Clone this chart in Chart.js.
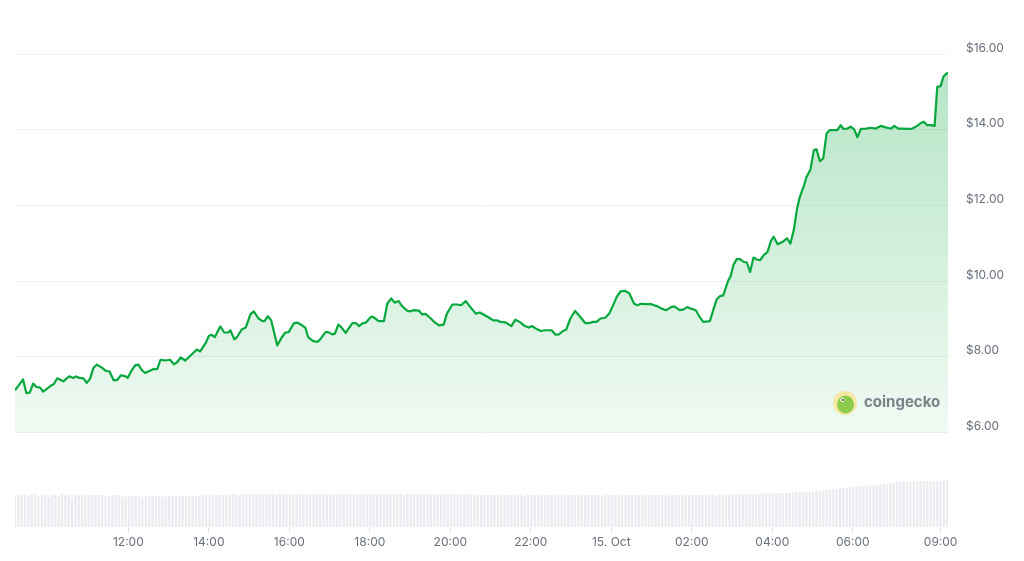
<!DOCTYPE html>
<html>
<head>
<meta charset="utf-8">
<title>Price chart</title>
<script src="https://cdn.jsdelivr.net/npm/chart.js@4.4.1/dist/chart.umd.min.js"></script>
<style>
  html, body { margin: 0; padding: 0; background: #ffffff; }
  #wrap { width: 1024px; height: 561px; }
</style>
</head>
<body>
<div id="wrap"><canvas id="myChart" width="1024" height="561"></canvas></div>
<script>
// Tiempos en minutos desde 14 Oct 00:00
const priceTimes = [
  551, 563, 568, 573, 578, 583, 588, 593, 599, 605, 609, 614, 623, 629, 632, 638, 642, 647, 653, 658,
  663, 668, 673, 679, 686, 692, 698, 703, 709, 716, 719, 724, 730, 735, 740, 745, 752, 757, 763, 768,
  775, 782, 788, 793, 798, 805, 812, 822, 827, 835, 840, 844, 849, 857, 863, 869, 872, 878, 882, 889,
  895, 902, 907, 914, 920, 923, 928, 933, 942, 948, 954, 959, 967, 972, 979, 984, 988, 995, 1002, 1006,
  1014, 1018, 1024, 1028, 1033, 1038, 1044, 1054, 1059, 1064, 1069, 1074, 1082, 1086, 1093, 1101, 1106, 1112, 1117, 1123,
  1128, 1136, 1141, 1145, 1153, 1158, 1163, 1171, 1176, 1183, 1190, 1195, 1203, 1210, 1216, 1223, 1230, 1238, 1244, 1250,
  1258, 1264, 1270, 1275, 1282, 1291, 1297, 1305, 1311, 1317, 1322, 1328, 1335, 1341, 1346, 1351, 1357, 1362, 1368, 1373,
  1379, 1386, 1393, 1401, 1407, 1413, 1418, 1424, 1431, 1437, 1442, 1448, 1454, 1461, 1467, 1474, 1479, 1484, 1491, 1499,
  1504, 1509, 1515, 1522, 1529, 1534, 1542, 1548, 1553, 1559, 1566, 1571, 1577, 1587, 1592, 1597, 1602, 1607, 1611, 1614,
  1618, 1622, 1627, 1632, 1637, 1642, 1647, 1652, 1657, 1662, 1667, 1673, 1678, 1682, 1688, 1695, 1702, 1707, 1712, 1717,
  1721, 1727, 1731, 1737, 1742, 1746, 1751, 1756, 1761, 1766, 1772, 1777, 1782, 1786, 1792, 1797, 1802, 1807, 1812, 1820,
  1827, 1834, 1842, 1849, 1857, 1862, 1868, 1874, 1882, 1889, 1896, 1901, 1906, 1911, 1917, 1922, 1926, 1931, 1935, 1939,
  1942
];

// Precio en USD
const prices = [
  7.11, 7.40, 7.04, 7.05, 7.29, 7.20, 7.19, 7.08, 7.16, 7.24, 7.28, 7.43, 7.35, 7.44, 7.48, 7.44, 7.48, 7.44, 7.43, 7.31,
  7.42, 7.71, 7.79, 7.73, 7.63, 7.61, 7.38, 7.38, 7.51, 7.48, 7.44, 7.61, 7.77, 7.79, 7.65, 7.57, 7.63, 7.67, 7.67, 7.92,
  7.90, 7.92, 7.80, 7.86, 7.98, 7.90, 8.02, 8.19, 8.14, 8.35, 8.55, 8.58, 8.52, 8.80, 8.64, 8.64, 8.70, 8.46, 8.52, 8.72,
  8.77, 9.12, 9.20, 9.01, 8.94, 8.94, 9.07, 8.96, 8.30, 8.49, 8.64, 8.65, 8.89, 8.90, 8.83, 8.76, 8.52, 8.42, 8.39, 8.46,
  8.65, 8.65, 8.59, 8.61, 8.85, 8.77, 8.63, 8.89, 8.89, 8.81, 8.88, 8.90, 9.06, 9.04, 8.94, 8.94, 9.40, 9.54, 9.43, 9.47,
  9.34, 9.21, 9.20, 9.23, 9.22, 9.12, 9.13, 9.01, 8.92, 8.83, 8.85, 9.14, 9.38, 9.38, 9.36, 9.47, 9.31, 9.14, 9.17, 9.11,
  9.03, 8.96, 8.96, 8.92, 8.91, 8.81, 8.98, 8.90, 8.81, 8.77, 8.81, 8.74, 8.68, 8.70, 8.70, 8.70, 8.58, 8.59, 8.68, 8.72,
  9.01, 9.21, 9.07, 8.89, 8.89, 8.92, 8.92, 9.01, 9.03, 9.14, 9.33, 9.58, 9.73, 9.74, 9.67, 9.40, 9.36, 9.40, 9.39, 9.39,
  9.36, 9.33, 9.27, 9.23, 9.31, 9.33, 9.23, 9.25, 9.31, 9.27, 9.23, 9.07, 8.92, 8.94, 9.23, 9.51, 9.60, 9.62, 9.84, 10.00,
  10.13, 10.42, 10.58, 10.58, 10.51, 10.49, 10.24, 10.62, 10.57, 10.55, 10.68, 10.77, 11.06, 11.17, 10.97, 11.03, 11.13, 10.99, 11.34, 11.92,
  12.22, 12.51, 12.75, 12.95, 13.46, 13.48, 13.17, 13.24, 13.90, 13.99, 13.99, 13.99, 14.12, 14.02, 14.03, 14.08, 14.01, 13.80, 14.02, 14.03,
  14.05, 14.03, 14.10, 14.06, 14.03, 14.10, 14.03, 14.03, 14.02, 14.03, 14.10, 14.17, 14.21, 14.12, 14.12, 14.10, 15.13, 15.15, 15.40, 15.47,
  15.51
];

// Volumen (millones USD), una barra cada 5 minutos desde volumeStart
const volumeStart = 551;
const volumeStep = 5;
const volumes = [
  3.2, 3.2, 3.3, 3.2, 3.1, 3.2, 3.3, 3.1, 3.2, 3.2, 3.0, 3.2,
  3.2, 3.1, 3.3, 3.2, 3.2, 2.9, 3.2, 3.2, 3.2, 3.2, 3.2, 3.2,
  3.2, 3.2, 3.2, 3.1, 3.1, 3.2, 3.2, 3.2, 3.1, 3.0, 3.1, 3.1,
  3.1, 3.1, 3.0, 3.1, 3.1, 3.1, 3.1, 3.1, 3.1, 3.0, 3.1, 3.1,
  3.1, 3.1, 3.1, 3.1, 3.1, 3.1, 3.1, 3.1, 3.2, 3.2, 3.2, 3.2,
  3.2, 3.2, 3.2, 3.2, 3.2, 3.3, 3.2, 3.2, 3.3, 3.3, 3.3, 3.3,
  3.3, 3.3, 3.3, 3.3, 3.3, 3.3, 3.2, 3.3, 3.3, 3.3, 3.3, 3.3,
  3.3, 3.3, 3.3, 3.2, 3.3, 3.3, 3.3, 3.3, 3.3, 3.3, 3.3, 3.3,
  3.3, 3.3, 3.3, 3.3, 3.3, 3.2, 3.3, 3.3, 3.3, 3.3, 3.3, 3.3,
  3.3, 3.3, 3.3, 3.3, 3.3, 3.3, 3.3, 3.3, 3.2, 3.3, 3.3, 3.3,
  3.3, 3.3, 3.3, 3.3, 3.3, 3.3, 3.3, 3.3, 3.3, 3.3, 3.3, 3.3,
  3.3, 3.2, 3.3, 3.3, 3.2, 3.2, 3.3, 3.2, 3.2, 3.2, 3.2, 3.2,
  3.2, 3.2, 3.2, 3.2, 3.2, 3.2, 3.2, 3.2, 3.1, 3.2, 3.2, 3.2,
  3.2, 3.2, 3.2, 3.2, 3.2, 3.2, 3.2, 3.2, 3.2, 3.2, 3.2, 3.2,
  3.2, 3.2, 3.2, 3.2, 3.2, 3.2, 3.2, 3.1, 3.2, 3.2, 3.2, 3.2,
  3.2, 3.2, 3.2, 3.2, 3.2, 3.2, 3.2, 3.2, 3.2, 3.2, 3.2, 3.2,
  3.2, 3.2, 3.2, 3.1, 3.2, 3.2, 3.2, 3.2, 3.2, 3.2, 3.2, 3.2,
  3.2, 3.2, 3.2, 3.2, 3.2, 3.1, 3.2, 3.2, 3.2, 3.2, 3.2, 3.3,
  3.3, 3.3, 3.3, 3.3, 3.3, 3.3, 3.3, 3.4, 3.4, 3.4, 3.4, 3.4,
  3.4, 3.4, 3.4, 3.4, 3.4, 3.5, 3.5, 3.5, 3.5, 3.5, 3.6, 3.6,
  3.6, 3.7, 3.7, 3.7, 3.8, 3.8, 3.9, 3.9, 3.9, 4.0, 4.0, 4.0,
  4.1, 4.1, 4.1, 4.2, 4.2, 4.2, 4.3, 4.3, 4.3, 4.4, 4.4, 4.5,
  4.5, 4.5, 4.5, 4.5, 4.5, 4.6, 4.6, 4.6, 4.6, 4.6, 4.6, 4.6,
  4.6, 4.7, 4.7
];

// Etiquetas de los ejes
const tickTimes = [720, 840, 960, 1080, 1200, 1320, 1440, 1560, 1680, 1800, 1931];
const tickLabels = ['12:00', '14:00', '16:00', '18:00', '20:00', '22:00', '15. Oct', '02:00', '04:00', '06:00', '09:00'];
const priceTicks = [6, 8, 10, 12, 14, 16];

const lineColor = '#07a83d';
const fontFamily = 'Inter, "Noto Sans", sans-serif';

// Degradado verde bajo la línea
function fillGradient(context) {
    const chart = context.chart;
    const area = chart.chartArea;
    if (!area) return 'rgba(10,168,63,0.2)';
    const g = chart.ctx.createLinearGradient(0, area.top, 0, area.bottom);
    g.addColorStop(0, 'rgba(10,168,63,0.31)');
    g.addColorStop(1, 'rgba(10,168,63,0.0)');
    return g;
}

// Marca de agua "coingecko"
const watermark = {
    id: 'watermark',
    afterDatasetsDraw(chart) {
        const ctx = chart.ctx;
        const area = chart.chartArea;
        const cx = area.right - 103;
        const cy = area.top + 349;
        ctx.save();
        ctx.beginPath();
        ctx.arc(cx, cy, 12, 0, Math.PI * 2);
        ctx.fillStyle = '#f6e9a6';
        ctx.fill();
        ctx.beginPath();
        ctx.ellipse(cx + 0.5, cy + 1.5, 8.5, 9, 0, 0, Math.PI * 2);
        ctx.fillStyle = '#8dcc4c';
        ctx.fill();
        ctx.beginPath();
        ctx.arc(cx - 2.5, cy - 3, 2, 0, Math.PI * 2);
        ctx.fillStyle = '#ffffff';
        ctx.fill();
        ctx.beginPath();
        ctx.arc(cx - 2.2, cy - 3, 1, 0, Math.PI * 2);
        ctx.fillStyle = '#333333';
        ctx.fill();
        ctx.font = 'bold 15px ' + fontFamily;
        ctx.fillStyle = '#7b8089';
        ctx.textBaseline = 'middle';
        ctx.textAlign = 'left';
        ctx.fillText('coingecko', cx + 19, cy - 0.5);
        ctx.restore();
    }
};

const config = {
    data: {
        datasets: [{
            type: 'line',
            label: 'Precio',
            data: priceTimes.map((t, i) => ({ x: t, y: prices[i] })),
            yAxisID: 'y',
            borderColor: lineColor,
            borderWidth: 2.2,
            borderJoinStyle: 'round',
            pointRadius: 0,
            tension: 0,
            fill: { value: 6 },
            backgroundColor: fillGradient,
            order: 1
        }, {
            type: 'bar',
            label: 'Volumen',
            data: volumes.map((v, i) => ({ x: volumeStart + i * volumeStep, y: v })),
            yAxisID: 'yVol',
            backgroundColor: 'rgba(222,226,232,0.65)',
            categoryPercentage: 1,
            barPercentage: 0.7,
            order: 2
        }]
    },
    options: {
        responsive: false,
        animation: false,
        layout: { padding: { left: 15, top: 54, right: 0, bottom: 0 } },
        plugins: {
            legend: { display: false },
            tooltip: { enabled: false }
        },
        scales: {
            x: {
                type: 'linear',
                min: priceTimes[0],
                max: priceTimes[priceTimes.length - 1],
                offset: false,
                afterBuildTicks: (axis) => { axis.ticks = tickTimes.map(v => ({ value: v })); },
                afterFit: (axis) => { axis.height = 34; },
                ticks: {
                    autoSkip: false,
                    maxRotation: 0,
                    padding: 2,
                    color: '#69707c',
                    font: { family: fontFamily, size: 12 },
                    callback: (value) => tickLabels[tickTimes.indexOf(value)]
                },
                grid: { offset: false, drawOnChartArea: false, drawTicks: true, tickLength: 6, color: '#e3e5ea' },
                border: { display: false }
            },
            y: {
                position: 'right',
                min: 3.5,
                max: 16,
                afterBuildTicks: (axis) => { axis.ticks = priceTicks.map(v => ({ value: v })); },
                afterFit: (axis) => { axis.width = 76; },
                ticks: {
                    padding: 18,
                    labelOffset: -6,
                    color: '#69707c',
                    font: { family: fontFamily, size: 12 },
                    callback: (value) => '$' + value.toFixed(2)
                },
                grid: { drawTicks: false, color: '#f0f1f3' },
                border: { display: false }
            },
            yVol: {
                display: false,
                min: 0,
                max: 47.3
            }
        }
    },
    plugins: [watermark]
};

var myChart = new Chart(document.getElementById('myChart'), config);
</script>
</body>
</html>
